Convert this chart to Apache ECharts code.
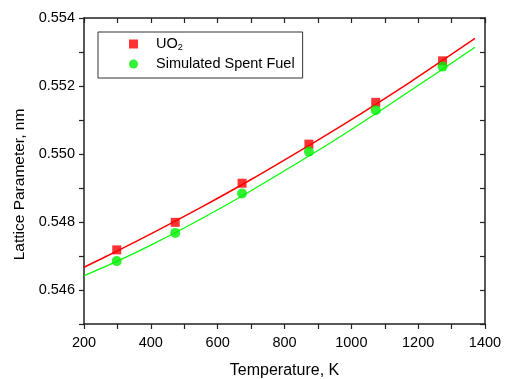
<!DOCTYPE html>
<html>
<head>
<meta charset="utf-8">
<script src="https://cdn.jsdelivr.net/npm/echarts@6/dist/echarts.min.js"></script>
<style>html,body{margin:0;padding:0;background:#fff}#c{width:505px;height:379px}</style>
</head>
<body>
<div id="c"></div>
<script>
// Measured points
const tempK = [298, 473, 673, 873, 1073, 1273];
const uo2 = [0.54718, 0.54799, 0.54914, 0.55029, 0.55152, 0.55274];
const spent = [0.54685, 0.54768, 0.54884, 0.55007, 0.55129, 0.55257];
// Fitted curves
const fitT = [200, 300, 400, 550, 700, 900, 1000, 1175, 1370];
const uo2Fit = [0.54667, 0.54715, 0.54765, 0.54843, 0.54925, 0.55041, 0.55101, 0.55211, 0.55340];
const spentFit = [0.54642, 0.54685, 0.54732, 0.54809, 0.54892, 0.55010, 0.55072, 0.55185, 0.55314];
// Axis settings
const xMin = 200, xMax = 1400, xStep = 100;
const yMin = 0.545, yMax = 0.554, yStep = 0.001;

const pair = (xs, ys) => xs.map((x, i) => [x, ys[i]]);
const font = 'Liberation Sans, Arial, sans-serif';
const axisCol = '#222';
const squarePath = 'path://M0,0L10,0L10,10L0,10Z';

const chart = echarts.init(document.getElementById('c'), null, {renderer: 'canvas'});
chart.setOption({
  animation: false,
  backgroundColor: '#fff',
  grid: {left: 84, right: 20, top: 18, bottom: 55, containLabel: false, outerBoundsMode: 'none'},
  legend: {
    orient: 'vertical', left: 98, top: 32,
    data: [{name: 'UO2', icon: squarePath}, {name: 'Simulated Spent Fuel', icon: 'circle'}],
    symbolKeepAspect: true,
    borderColor: '#333', borderWidth: 1, borderRadius: 0,
    padding: [4, 8, 6, 31],
    itemWidth: 35, itemHeight: 9, itemGap: 4,
    formatter: n => n === 'UO2' ? 'UO{sub|2}' : n,
    textStyle: {fontFamily: font, fontSize: 14.5, color: '#000', lineHeight: 16,
      rich: {sub: {fontFamily: font, fontSize: 9, color: '#000', verticalAlign: 'bottom', padding: [7, 0, 0, 0]}}}
  },
  xAxis: [{
    type: 'value', min: xMin, max: xMax, interval: xStep, position: 'bottom',
    name: 'Temperature, K', nameLocation: 'middle', nameGap: 39,
    nameTextStyle: {fontFamily: font, fontSize: 16, color: '#000'},
    axisLine: {lineStyle: {color: axisCol, width: 1.5}},
    axisTick: {inside: false, length: 5, lineStyle: {color: axisCol, width: 1.2}},
    axisLabel: {fontFamily: font, fontSize: 14.5, color: '#000', margin: 11,
      formatter: v => (Math.round(v) % 200 === 0 ? String(v) : '')},
    splitLine: {show: false}
  }, {
    type: 'value', min: xMin, max: xMax, interval: xStep, position: 'top',
    axisLine: {lineStyle: {color: axisCol, width: 1.5}},
    axisTick: {inside: true, length: 5, lineStyle: {color: axisCol, width: 1.2}},
    axisLabel: {show: false}, splitLine: {show: false}
  }],
  yAxis: [{
    type: 'value', min: yMin, max: yMax, interval: yStep, position: 'left',
    name: 'Lattice Parameter, nm', nameLocation: 'middle', nameGap: 54, nameRotate: 90,
    nameTextStyle: {fontFamily: font, fontSize: 15.5, color: '#000', padding: [0, 27, 0, 0]},
    axisLine: {lineStyle: {color: axisCol, width: 1.5}},
    axisTick: {inside: false, length: 5, lineStyle: {color: axisCol, width: 1.2}},
    axisLabel: {fontFamily: font, fontSize: 14.5, color: '#000', margin: 9,
      formatter: v => (Math.round(v * 1000) % 2 === 0 ? v.toFixed(3) : '')},
    splitLine: {show: false}
  }, {
    type: 'value', min: yMin, max: yMax, interval: yStep, position: 'right',
    axisLine: {lineStyle: {color: axisCol, width: 1.5}},
    axisTick: {inside: true, length: 5, lineStyle: {color: axisCol, width: 1.2}},
    axisLabel: {show: false}, splitLine: {show: false}
  }],
  series: [
    {name: 'UO2 fit', type: 'line', data: pair(fitT, uo2Fit), smooth: 0.3, showSymbol: false,
      lineStyle: {color: '#ff0000', width: 1.5}, z: 2},
    {name: 'Spent fit', type: 'line', data: pair(fitT, spentFit), smooth: 0.3, showSymbol: false,
      lineStyle: {color: '#00ff00', width: 1.2}, z: 2},
    {name: 'UO2', type: 'scatter', data: pair(tempK, uo2), symbol: squarePath, symbolKeepAspect: true, symbolSize: 9,
      itemStyle: {color: '#ff0000'}, z: 3},
    {name: 'Simulated Spent Fuel', type: 'scatter', data: pair(tempK, spent), symbol: 'circle', symbolSize: 10,
      itemStyle: {color: '#00ee00'}, z: 4}
  ]
});
</script>
</body>
</html>
